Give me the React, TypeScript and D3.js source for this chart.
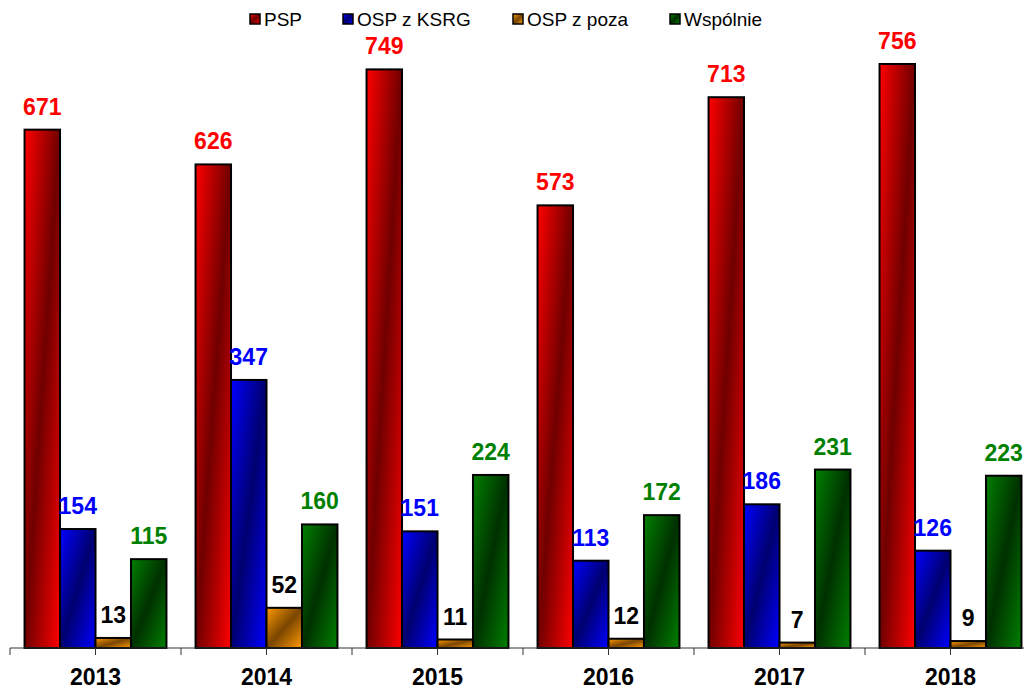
import React from 'react';
import * as d3 from 'd3';

const years = ['2013', '2014', '2015', '2016', '2017', '2018'];
const seriesNames = ['PSP', 'OSP z KSRG', 'OSP z poza', 'Wspólnie'];
const psp = [671, 626, 749, 573, 713, 756];
const ospKsrg = [154, 347, 151, 113, 186, 126];
const ospPoza = [13, 52, 11, 12, 7, 9];
const wspolnie = [115, 160, 224, 172, 231, 223];

const seriesValues = [psp, ospKsrg, ospPoza, wspolnie];
const bright = ['#ff0000', '#0000ff', '#ff9900', '#008000'];
const dark = ['#700000', '#000070', '#7a4600', '#003000'];
const labelColors = ['#ff0000', '#0000ff', '#000000', '#008000'];

const width = 1024;
const height = 691;
const font = 'Liberation Sans, Arial, sans-serif';

export default function App() {
  // group scale, runs a little past the right edge like the original
  const x0 = d3.scaleBand<string>().domain(years).range([10, 1036]).padding(0);
  const x1 = d3
    .scaleBand<string>()
    .domain(seriesNames)
    .range([0, x0.bandwidth()])
    .paddingInner(0)
    .paddingOuter(0.41);
  const y = d3.scaleLinear().domain([0, 800]).range([648, 30]);

  // tick marks at group edges and group centres
  const tickXs: number[] = [];
  years.forEach((yr) => {
    tickXs.push(x0(yr)!);
    tickXs.push(x0(yr)! + x0.bandwidth() / 2);
  });

  const legendX = [250, 343, 513, 670];

  return (
    <svg
      width={width}
      height={height}
      style={{ position: 'absolute', left: 0, top: 0, background: '#fff' }}
    >
      <defs>
        {seriesNames.map((s, i) => (
          <linearGradient key={s} id={`grad${i}`} x1="0" y1="0" x2="1" y2="1">
            <stop offset="0" stopColor={bright[i]} />
            <stop offset="0.5" stopColor={dark[i]} />
            <stop offset="1" stopColor={bright[i]} />
          </linearGradient>
        ))}
      </defs>

      {/* legend */}
      {seriesNames.map((s, i) => (
        <g key={s}>
          <rect
            x={legendX[i]}
            y={14}
            width={10}
            height={10}
            fill={`url(#grad${i})`}
            stroke="#000"
            strokeWidth={1.5}
          />
          <text
            x={legendX[i] + 14}
            y={26}
            fontFamily={font}
            fontSize={19}
            fill="#000"
          >
            {s}
          </text>
        </g>
      ))}

      {/* bars */}
      {years.map((yr, j) => (
        <g key={yr} transform={`translate(${x0(yr)},0)`}>
          {seriesNames.map((s, i) => {
            const v = seriesValues[i][j];
            const bx = x1(s)!;
            const by = y(v);
            return (
              <g key={s}>
                <rect
                  x={bx}
                  y={by}
                  width={x1.bandwidth()}
                  height={y(0) - by}
                  fill={`url(#grad${i})`}
                  stroke="#000"
                  strokeWidth={2}
                />
                <text
                  x={bx + x1.bandwidth() / 2}
                  y={by - 15}
                  textAnchor="middle"
                  fontFamily={font}
                  fontWeight="bold"
                  fontSize={23}
                  fill={labelColors[i]}
                >
                  {v}
                </text>
              </g>
            );
          })}
        </g>
      ))}

      {/* axis */}
      <line x1={10} x2={width} y1={y(0)} y2={y(0)} stroke="#333" strokeWidth={1} />
      {tickXs.map((tx, k) => (
        <line
          key={k}
          x1={tx}
          x2={tx}
          y1={y(0)}
          y2={y(0) + 7}
          stroke="#333"
          strokeWidth={1}
        />
      ))}
      {years.map((yr) => (
        <text
          key={yr}
          x={x0(yr)! + x0.bandwidth() / 2}
          y={685}
          textAnchor="middle"
          fontFamily={font}
          fontWeight="bold"
          fontSize={23}
          fill="#000"
        >
          {yr}
        </text>
      ))}
    </svg>
  );
}
